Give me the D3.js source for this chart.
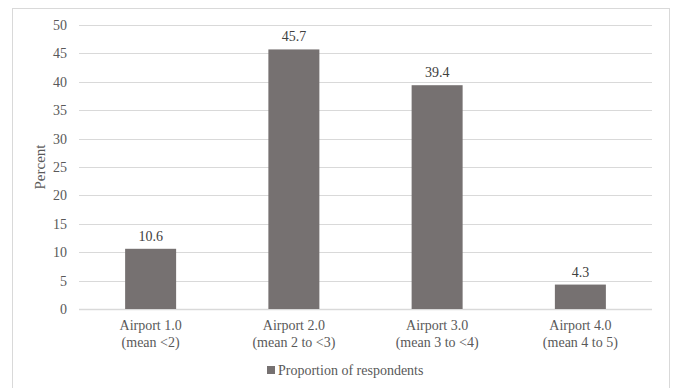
<!DOCTYPE html>
<html>
<head>
<meta charset="utf-8">
<script src="https://cdn.jsdelivr.net/npm/d3@7"></script>
<style>
  body { margin: 0; background: #fff; }
  svg { display: block; font-family: "Liberation Serif", "Times New Roman", serif; }
</style>
</head>
<body>
<svg id="chart" width="674" height="388"></svg>
<script>
// Data
const categories = ["Airport 1.0|(mean <2)", "Airport 2.0|(mean 2 to <3)", "Airport 3.0|(mean 3 to <4)", "Airport 4.0|(mean 4 to 5)"];
const values = [10.6, 45.7, 39.4, 4.3];
const yTicks = [0, 5, 10, 15, 20, 25, 30, 35, 40, 45, 50];
const seriesName = "Proportion of respondents";

const width = 674, height = 388;
const margin = { top: 25, right: 22, bottom: 79, left: 79 };
const textColor = "#595959";
const barColor = "#767171";

const svg = d3.select("#chart");

// chart border
svg.append("rect")
    .attr("x", 12.5).attr("y", 8.5)
    .attr("width", 657).attr("height", 390)
    .attr("fill", "none").attr("stroke", "#d9d9d9");

const x = d3.scaleBand().domain(categories).range([margin.left, width - margin.right]);
const y = d3.scaleLinear().domain([0, 50]).range([height - margin.bottom, margin.top]);

// gridlines
svg.append("g").selectAll("line")
    .data(yTicks).enter().append("line")
    .attr("x1", margin.left).attr("x2", width - margin.right)
    .attr("y1", d => Math.round(y(d)) + 0.5).attr("y2", d => Math.round(y(d)) + 0.5)
    .attr("stroke", "#d9d9d9").attr("stroke-width", d => d === 0 ? 1.5 : 1);

// y tick labels
svg.append("g").selectAll("text")
    .data(yTicks).enter().append("text")
    .attr("x", 67).attr("y", d => y(d))
    .attr("dy", "0.35em").attr("text-anchor", "end")
    .attr("fill", textColor).attr("font-size", "14px")
    .text(d => d);

// y axis title
svg.append("text")
    .attr("transform", `translate(45,${(y(0) + y(50)) / 2}) rotate(-90)`)
    .attr("text-anchor", "middle").attr("fill", textColor).attr("font-size", "15px")
    .text("Percent");

// bars
const barW = x.bandwidth() * 0.356;
svg.append("g").selectAll("rect")
    .data(values).enter().append("rect")
    .attr("x", (d, i) => x(categories[i]) + (x.bandwidth() - barW) / 2)
    .attr("y", d => y(d))
    .attr("width", barW)
    .attr("height", d => y(0) - y(d))
    .attr("fill", barColor);

// value labels
svg.append("g").selectAll("text")
    .data(values).enter().append("text")
    .attr("x", (d, i) => x(categories[i]) + x.bandwidth() / 2)
    .attr("y", d => y(d) - 8)
    .attr("text-anchor", "middle").attr("fill", "#404040").attr("font-size", "14px")
    .text(d => d.toFixed(1));

// category labels
const catG = svg.append("g").selectAll("text")
    .data(categories).enter().append("text")
    .attr("x", d => x(d) + x.bandwidth() / 2)
    .attr("y", 330)
    .attr("text-anchor", "middle").attr("fill", textColor).attr("font-size", "14px");
catG.append("tspan").attr("x", d => x(d) + x.bandwidth() / 2).text(d => d.split("|")[0]);
catG.append("tspan").attr("x", d => x(d) + x.bandwidth() / 2).attr("dy", 17).text(d => d.split("|")[1]);

// legend
const legend = svg.append("g").attr("transform", "translate(267,370)");
legend.append("rect").attr("x", 0).attr("y", -4).attr("width", 8).attr("height", 8).attr("fill", barColor);
legend.append("text").attr("x", 11).attr("dy", "0.35em")
    .attr("fill", textColor).attr("font-size", "14px").text(seriesName);
</script>
</body>
</html>
